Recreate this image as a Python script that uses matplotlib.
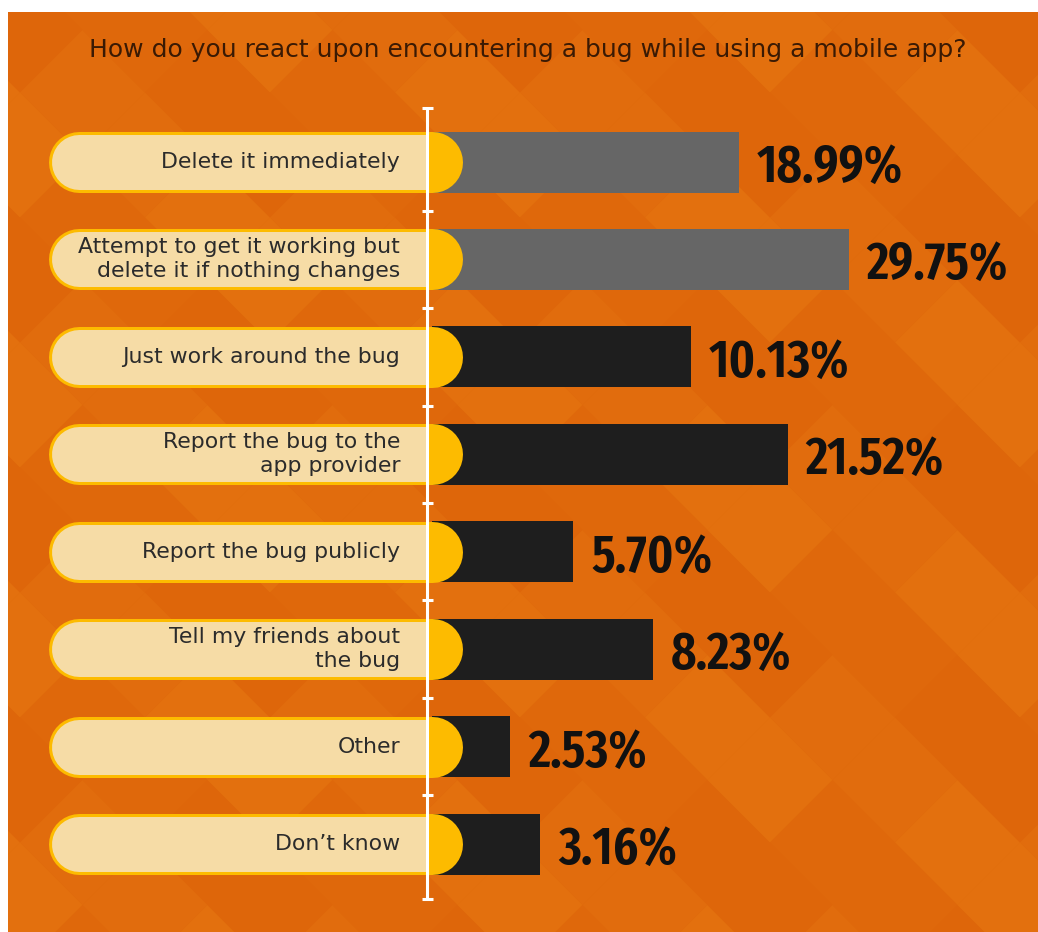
import matplotlib
matplotlib.use("Agg")
import matplotlib.pyplot as plt
import matplotlib.transforms as mtransforms
from matplotlib.patches import Rectangle, Polygon
from matplotlib import font_manager
from matplotlib.font_manager import FontProperties

# ---------------- data ----------------
title = "How do you react upon encountering a bug while using a mobile app?"
categories = [
    "Delete it immediately",
    "Attempt to get it working but\ndelete it if nothing changes",
    "Just work around the bug",
    "Report the bug to the\napp provider",
    "Report the bug publicly",
    "Tell my friends about\nthe bug",
    "Other",
    "Don\u2019t know",
]
percent_labels = ["18.99%", "29.75%", "10.13%", "21.52%", "5.70%", "8.23%", "2.53%", "3.16%"]
# drawn bar lengths as they appear in the infographic (not proportional in the original)
bar_lengths = [21.9, 29.75, 18.5, 25.4, 10.1, 15.8, 5.6, 7.7]
bar_colors = ["#666666", "#666666", "#1e1e1e", "#1e1e1e", "#1e1e1e", "#1e1e1e", "#1e1e1e", "#1e1e1e"]

# ---------------- condensed font lookup ----------------
STRETCH_RANK = {"ultra-condensed": 5, "extra-condensed": 4, "condensed": 3, "semi-condensed": 2}

def weight_num(w):
    if isinstance(w, (int, float)):
        return int(w)
    s = str(w).lower()
    table = {"thin": 100, "extralight": 200, "light": 300, "normal": 400, "regular": 400,
             "book": 400, "medium": 500, "semibold": 600, "demibold": 600, "bold": 700,
             "extrabold": 800, "heavy": 800, "black": 900}
    return table.get(s.replace(" ", "").replace("-", ""), 400)

def find_condensed():
    best = None
    for f in font_manager.fontManager.ttflist:
        name = f.name.lower()
        fn = f.fname.lower()
        if "italic" in fn or "oblique" in fn or str(f.style).lower() != "normal":
            continue
        stretch = str(f.stretch).lower()
        rank = STRETCH_RANK.get(stretch, 0)
        if rank == 0 and ("narrow" in name or "narrow" in fn or "condensed" in name or "condensed" in fn):
            rank = 3
        if "extracondensed" in fn.replace("-", "").replace("_", ""):
            rank = max(rank, 4)
        if rank == 0:
            continue
        score = rank * 1000 - abs(weight_num(f.weight) - 560)
        if best is None or score > best[0]:
            best = (score, f.fname)
    return best[1] if best else None

cond_path = find_condensed()

W, H = 1038, 932
fig = plt.figure(figsize=(W / 100, H / 100), dpi=100)
fig.patch.set_facecolor("white")
ax = fig.add_axes([0, 0, 1, 1])
ax.set_axis_off()
renderer = fig.canvas.get_renderer()

def pct_fontprops(size):
    if cond_path:
        return FontProperties(fname=cond_path, size=size)
    return FontProperties(family="DejaVu Sans", weight="bold", size=size)

# fit the percentage font so "18.99%" is about 146 px wide (as in the reference)
probe = fig.text(0, 0, percent_labels[0], fontproperties=pct_fontprops(38))
wpx = probe.get_window_extent(renderer).width
probe.remove()
pct_size = min(40.0, 38.0 * 146.0 / wpx)

PX = 14.0          # pixels per x data unit
X0 = 432.0         # pixel x of bar origin
ROW0, ROWSTEP = 162.0, 97.43
ax.set_xlim(-X0 / PX, (W - X0) / PX)
ax.set_ylim((H - ROW0) / ROWSTEP, -ROW0 / ROWSTEP)

# pixel-space transform (origin at top-left)
pix = mtransforms.Affine2D().scale(1.0 / W, -1.0 / H).translate(0, 1) + ax.transAxes

# ---------------- background ----------------
ax.add_patch(Rectangle((0, 0), W, H, transform=pix, facecolor="#e0690b",
                       edgecolor="none", zorder=0))
shades = ["#de660a", "#e16c0d", "#e3700e", "#df680b"]
D = 125.0
for i in range(-1, 10):
    for j in range(-1, 9):
        for off, k in ((0.0, 0), (0.5, 1)):
            cx = 20 + (i + off) * D
            cy = 30 + (j + off) * D
            ax.add_patch(Polygon([(cx, cy - D / 2), (cx + D / 2, cy), (cx, cy + D / 2),
                                  (cx - D / 2, cy)], closed=True, transform=pix,
                                 facecolor=shades[(i * 3 + j * 2 + k) % 4],
                                 edgecolor="none", zorder=0.5))
# white frame strips (top and left)
ax.add_patch(Rectangle((0, 0), W, 12, transform=pix, facecolor="white", edgecolor="none", zorder=1))
ax.add_patch(Rectangle((0, 0), 8, H, transform=pix, facecolor="white", edgecolor="none", zorder=1))

# ---------------- title ----------------
ax.text(528, 50, title, transform=pix, ha="center", va="center", fontsize=18,
        color="#3a1a04", family="DejaVu Sans")

# ---------------- bars ----------------
n = len(categories)
ypos = list(range(n))
bar_h = 61.0 / ROWSTEP
ax.barh(ypos, bar_lengths, left=0, height=bar_h, color=bar_colors, zorder=2)

axis_x = (427 - X0) / PX
pill_left = (78.5 - X0) / PX
pill_right = 0.0
lw_outer = 61 * 0.72
lw_inner = 55 * 0.72
clip_rect = Rectangle((-100, -10), 100 + axis_x, 30, transform=ax.transData)

for i, (cat, pct, L) in enumerate(zip(categories, percent_labels, bar_lengths)):
    ax.plot([pill_left, pill_right], [i, i], color="#fdbb00", lw=lw_outer,
            solid_capstyle="round", zorder=3)
    inner, = ax.plot([pill_left, pill_right], [i, i], color="#f6dca6", lw=lw_inner,
                     solid_capstyle="round", zorder=4)
    inner.set_clip_path(clip_rect)
    ax.text((400 - X0) / PX, i, cat, ha="right", va="center", fontsize=15.8,
            color="#2b2b2b", linespacing=1.25, zorder=6)
    ax.text(L + 18 / PX, i, pct, ha="left", va="center_baseline",
            color="#111111", zorder=6, fontproperties=pct_fontprops(pct_size))

# ---------------- axis line with ticks ----------------
y_top = (108 - ROW0) / ROWSTEP
y_bot = (899 - ROW0) / ROWSTEP
ax.plot([axis_x, axis_x], [y_top, y_bot], color="white", lw=2.2, zorder=5,
        solid_capstyle="butt")
tick_y = [y_top] + [i + 0.5 for i in range(n - 1)] + [y_bot]
half = 5.5 / PX
for ty in tick_y:
    ax.plot([axis_x - half, axis_x + half], [ty, ty], color="white", lw=2.2, zorder=5,
            solid_capstyle="butt")

fig.savefig("out.png", dpi=100, facecolor=fig.get_facecolor())
